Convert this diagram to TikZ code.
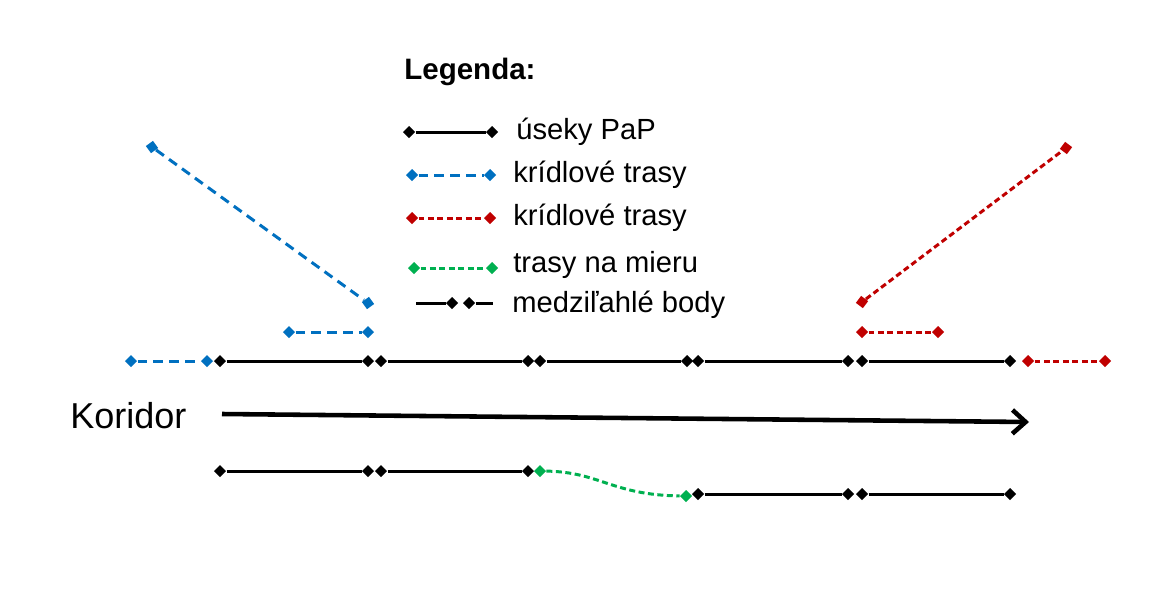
\documentclass[tikz,border=0pt]{standalone}
\usepackage{fontspec}
\setmainfont{Liberation Sans}
\usetikzlibrary{shapes.geometric,arrows.meta}
\definecolor{cblue}{RGB}{0,112,192}
\definecolor{cred}{RGB}{192,0,0}
\definecolor{cgreen}{RGB}{0,176,80}
\tikzset{
  dia/.style={diamond,fill=#1,draw=none,inner sep=0pt,minimum size=7pt},
  dia/.default=black,
  sq/.style={rectangle,fill=#1,draw=none,inner sep=0pt,minimum size=5pt},
  seg/.style={line width=1.7pt,black},
  bseg/.style={line width=1.7pt,cblue,dash pattern=on 5.5pt off 3.6pt},
  rseg/.style={line width=1.7pt,cred,dash pattern=on 3.4pt off 2pt},
  gseg/.style={line width=1.7pt,cgreen,dash pattern=on 3.4pt off 2pt},
  lbl/.style={anchor=west,inner sep=0pt,font=\fontsize{16.6pt}{20pt}\selectfont},
}
\begin{document}
\begin{tikzpicture}[x=0.02cm,y=-0.02cm]
\useasboundingbox (0,0) rectangle (1153,596);
\fill[white] (0,0) rectangle (1153,596);

% legend
\node[lbl,font=\fontsize{16.8pt}{20pt}\selectfont\bfseries] (leg) at (404,72) {Legenda:};
\node[dia] (la1) at (409,132) {}; \node[dia] (la2) at (492,132) {};
\draw[seg] (la1) -- (la2);
\node[lbl] (ta) at (516,132) {úseky PaP};
\node[dia=cblue] (lb1) at (412,175) {}; \node[dia=cblue] (lb2) at (490,175) {};
\draw[bseg] (lb1) -- (lb2);
\node[lbl] (tb) at (513,175) {krídlové trasy};
\node[dia=cred] (lc1) at (412,218) {}; \node[dia=cred] (lc2) at (490,218) {};
\draw[rseg] (lc1) -- (lc2);
\node[lbl] (tc) at (513,218) {krídlové trasy};
\node[dia=cgreen] (ld1) at (414,268) {}; \node[dia=cgreen] (ld2) at (492,268) {};
\draw[gseg] (ld1) -- (ld2);
\node[lbl] (td) at (513,265) {trasy na mieru};
\coordinate (le0) at (416,303);
\node[dia] (le1) at (452,303) {}; \node[dia] (le2) at (469,303) {};
\coordinate (le3) at (493,303);
\draw[seg] (le0) -- (le1); \draw[seg] (le2) -- (le3);
\node[lbl] (te) at (512,305) {medziľahlé body};

% upper wing routes
\node[sq=cblue,rotate=36] (bs1) at (152,147) {};
\node[sq=cblue,rotate=36] (bs2) at (368,303) {};
\draw[bseg] (bs1) -- (bs2);
\node[dia=cblue] (b1) at (289,332) {}; \node[dia=cblue] (b2) at (368,332) {};
\draw[bseg] (b1) -- (b2);
\node[sq=cred,rotate=-37] (rs1) at (862,302) {};
\node[sq=cred,rotate=-37] (rs2) at (1066,148) {};
\draw[rseg] (rs1) -- (rs2);
\node[dia=cred] (r1) at (862,332) {}; \node[dia=cred] (r2) at (938,332) {};
\draw[rseg] (r1) -- (r2);

% main row
\node[dia=cblue] (m1) at (131,361) {}; \node[dia=cblue] (m2) at (207,361) {};
\draw[bseg] (m1) -- (m2);
\node[dia] (m3) at (220,361) {}; \node[dia] (m4) at (368,361) {};
\node[dia] (m5) at (381,361) {}; \node[dia] (m6) at (528,361) {};
\node[dia] (m7) at (540,361) {}; \node[dia] (m8) at (687,361) {};
\node[dia] (m9) at (698,361) {}; \node[dia] (m10) at (848,361) {};
\node[dia] (m11) at (862,361) {}; \node[dia] (m12) at (1010,361) {};
\draw[seg] (m3) -- (m4); \draw[seg] (m5) -- (m6); \draw[seg] (m7) -- (m8);
\draw[seg] (m9) -- (m10); \draw[seg] (m11) -- (m12);
\node[dia=cred] (m13) at (1028,361) {}; \node[dia=cred] (m14) at (1105,361) {};
\draw[rseg] (m13) -- (m14);

% corridor
\node[anchor=west,inner sep=0pt,font=\fontsize{20.5pt}{24pt}\selectfont] (kor) at (70,416) {Koridor};
\coordinate (k1) at (222,414);
\coordinate (k2) at (1029,422);
\draw[line width=2.6pt,-{Straight Barb[length=7.5pt,width=13.5pt]}] (k1) -- (k2);

% bottom row
\node[dia] (l1) at (220,471) {}; \node[dia] (l2) at (368,471) {};
\node[dia] (l3) at (381,471) {}; \node[dia] (l4) at (528,471) {};
\draw[seg] (l1) -- (l2); \draw[seg] (l3) -- (l4);
\node[dia=cgreen] (g1) at (540,471) {}; \node[dia=cgreen] (g2) at (686,496) {};
\draw[gseg] (g1) .. controls (600,472) and (612,495) .. (g2);
\node[dia] (l5) at (698,494) {}; \node[dia] (l6) at (848,494) {};
\node[dia] (l7) at (862,494) {}; \node[dia] (l8) at (1010,494) {};
\draw[seg] (l5) -- (l6); \draw[seg] (l7) -- (l8);
\end{tikzpicture}
\end{document}
